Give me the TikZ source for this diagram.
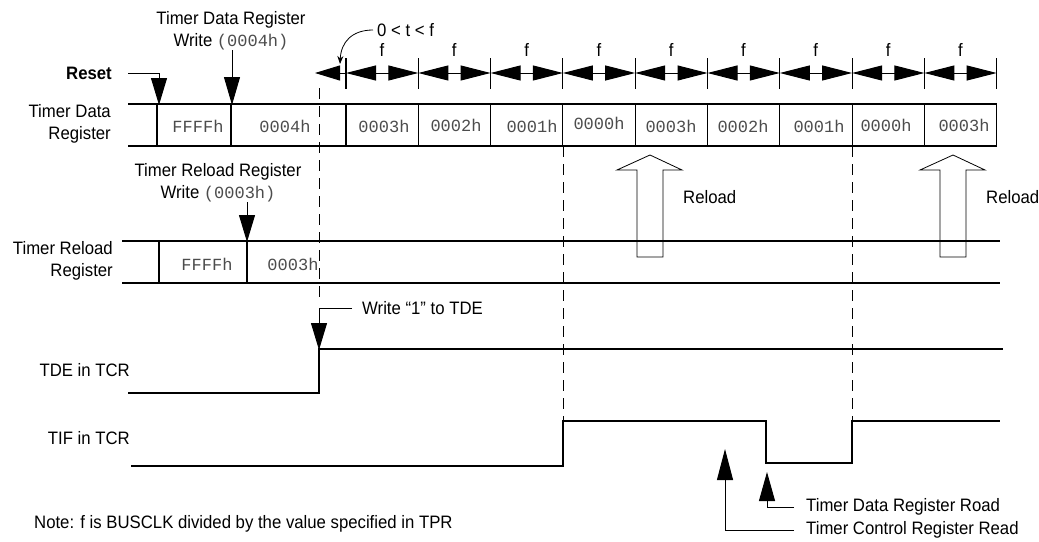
\documentclass[tikz,border=0pt]{standalone}
\usepackage{fontspec}
\setmainfont{Liberation Sans}[FakeStretch=0.93]
\setmonofont{Liberation Mono}
\usetikzlibrary{arrows.meta, positioning, calc}

\begin{document}
\begin{tikzpicture}[
  x=1pt, y=-1pt,
  every node/.style={font=\fontsize{18}{22}\selectfont, inner sep=0pt},
  lbl/.style={align=right, anchor=east},
  hex/.style={font=\fontsize{17}{22}\selectfont\ttfamily, text=black!70},
  sig/.style={line width=1.1pt},
  dline/.style={line width=1pt, dash pattern=on 11pt off 7pt},
  tri/.style={-{Triangle[length=#1, width=16pt]}, line width=1pt},
  fspan/.style={{Triangle[length=30pt, width=15pt]}-{Triangle[length=30pt, width=15pt]}, line width=1pt},
  hollow/.style={line width=0.8pt}
]
  \useasboundingbox (0,0) rectangle (1039,541);

  % signal names
  \node[lbl, font=\fontsize{18}{22}\selectfont\bfseries] (rst) at (112,73) {Reset};
  \node[lbl] (tdrlbl) at (111,124) {Timer Data\\Register};
  \node[lbl] (trrlbl) at (113,261) {Timer Reload\\Register};
  \node[lbl] (tdelbl) at (130,370) {TDE in TCR};
  \node[lbl] (tiflbl) at (130,438) {TIF in TCR};
  \node[anchor=west] (note) at (34,524) {Note: f is BUSCLK divided by the value specified in TPR};

  % write strobes
  \node[align=center] (tdrwr) at (231,31) {Timer Data Register\\Write {\color{black!70}\ttfamily\fontsize{17}{22}\selectfont(0004h)}};
  \node[align=center] (trrwr) at (218,183) {Timer Reload Register\\Write {\color{black!70}\ttfamily\fontsize{17}{22}\selectfont(0003h)}};
  \coordinate (rsttip) at (159,105);
  \coordinate (tdrtip) at (232,105);
  \coordinate (trrtip) at (247,242);
  \draw[tri=27pt] ([xshift=16pt]rst.east) -| (rsttip);
  \draw[tri=28pt] (tdrtip |- tdrwr.south) -- (tdrtip);
  \draw[tri=27pt] (trrtip |- trrwr.south) -- (trrtip);

  % f periods
  \node[anchor=west] (tlbl) at (377,30) {0 < t < f};
  \draw[-{Stealth[length=8pt, width=6pt]}, line width=0.8pt] ([xshift=-4pt]tlbl.west) .. controls (352,30) and (341,42) .. (340,64);
  \draw[-{Triangle[length=25pt, width=15pt]}, line width=1pt] (346,73) -- (315,73);
  \foreach \i in {0,...,8} {
    \draw[fspan] (346+72.3*\i,73) -- (418.3+72.3*\i,73);
    \node (f\i) at (382+72.3*\i,50) {f};
  }
  \foreach \i in {0,...,9}
    \draw[sig] (346+72.3*\i,58) -- (346+72.3*\i,89);

  % timer data register
  \draw[sig] (128,104) -- (997,104) (128,146) -- (997,146);
  \draw[sig] (157,104) -- (157,146) (231,104) -- (231,146);
  \foreach \i in {0,...,9}
    \draw[sig] (346+72.3*\i,104) -- (346+72.3*\i,146);
  \node[hex] (d0) at (198,126) {FFFFh};
  \node[hex] (d1) at (285,126) {0004h};
  \foreach \x/\y/\v [count=\n] in {384/126/0003h, 456/125/0002h, 532/126/0001h, 599/123/0000h,
      671/126/0003h, 743/126/0002h, 819/126/0001h, 886/125/0000h, 964/125/0003h}
    \node[hex] (v\n) at (\x,\y) {\v};

  % timer reload register
  \draw[sig] (122,241) -- (1000,241) (122,283) -- (1000,283);
  \draw[sig] (159,241) -- (159,283) (247,241) -- (247,283);
  \node[hex] (r0) at (207,264) {FFFFh};
  \node[hex] (r1) at (293,264) {0003h};
  \foreach \x [count=\n] in {650,953} {
    \draw[hollow] (\x-13,257) -- (\x+13,257) -- (\x+13,170) -- (\x+32,170) -- (\x,155)
      -- (\x-33,170) -- (\x-13,170) -- cycle;
    \node[anchor=west] (rl\n) at (\x+33,197) {Reload};
  }

  % dashed markers
  \draw[dline] (319,88) -- (319,300);
  \draw[dline] (563,146) -- (563,421);
  \draw[dline] (852,146) -- (852,421);

  % TDE
  \node[anchor=west] (wr1) at (362,308) {Write “1” to TDE};
  \coordinate (tdetip) at (319,350);
  \draw[tri=27pt] ([xshift=-10pt]wr1.west) -| (tdetip);
  \draw[sig] (128,393) -- (319,393) -- (319,349) -- (1003,349);

  % TIF
  \draw[sig] (131,466) -- (563,466) -- (563,421) -- (766,421) -- (766,463) -- (852,463)
    -- (852,421) -- (1000,421);
  \node[anchor=west] (tdrrd) at (806,507) {Timer Data Register Road};
  \node[anchor=west] (tcrrd) at (806,530) {Timer Control Register Read};
  \coordinate (tdrrdtip) at (767,472);
  \coordinate (tcrrdtip) at (725,449);
  \draw[tri=29pt] ([xshift=-12pt]tdrrd.west) -| (tdrrdtip);
  \draw[tri=31pt] ([xshift=-12pt]tcrrd.west) -| (tcrrdtip);
\end{tikzpicture}
\end{document}
